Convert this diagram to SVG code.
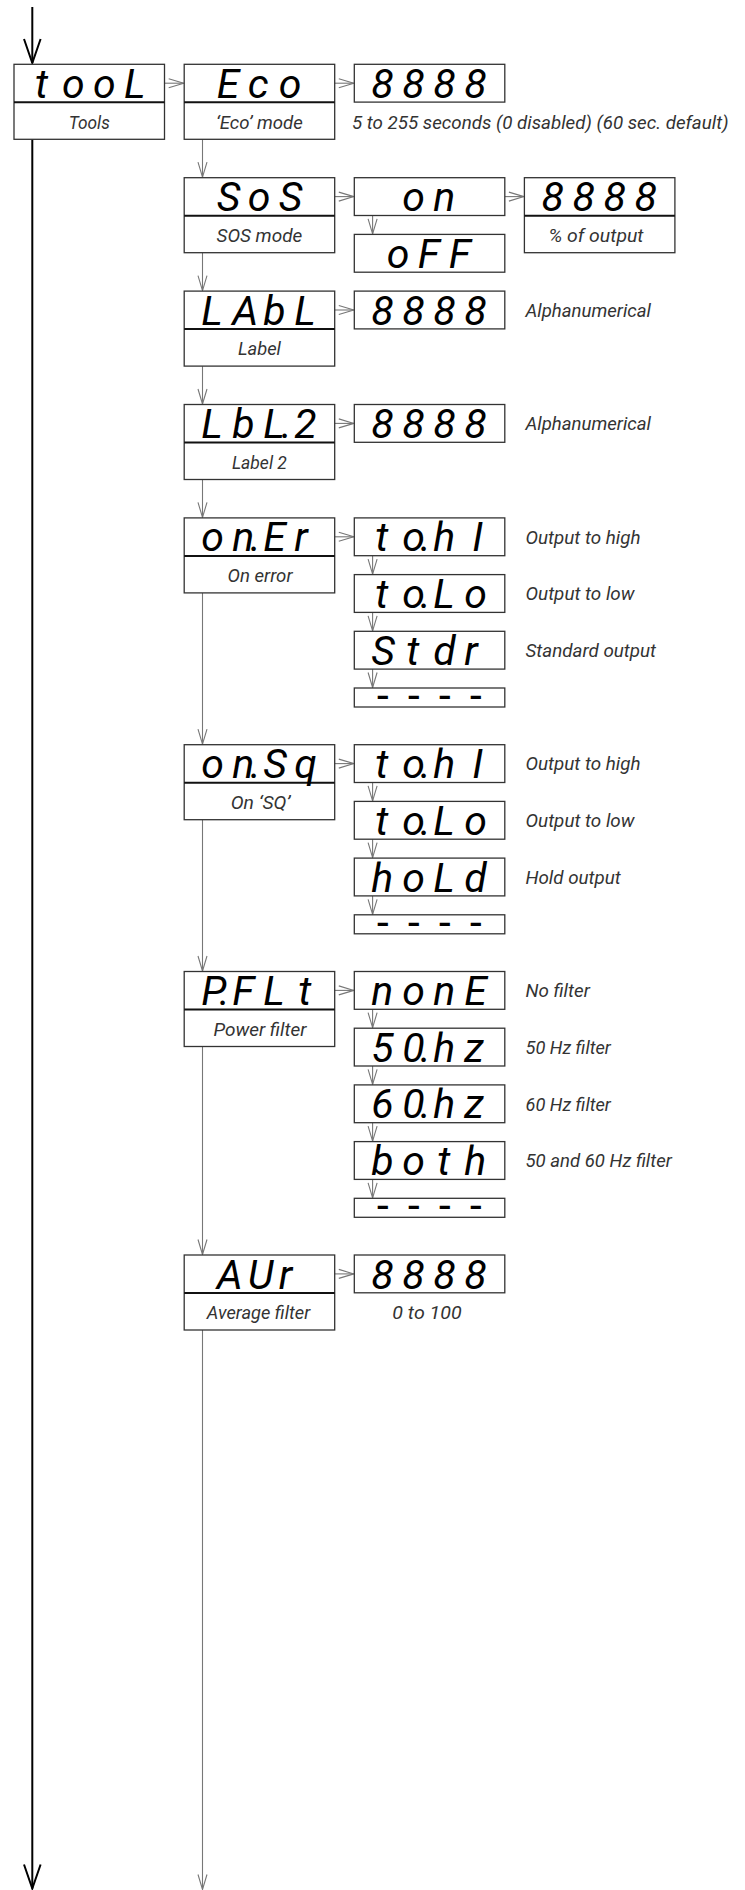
<svg xmlns="http://www.w3.org/2000/svg" width="745" height="1890" viewBox="0 0 745 1890">
<defs>
<style>
.box{fill:#fff;stroke:#333;stroke-width:1.3}
.dv{stroke:#111;stroke-width:2}
.seg{font-family:Roboto,"DejaVu Sans",sans-serif;font-style:italic;font-weight:400;font-size:41px;fill:#000}
.dash{font-family:"DejaVu Sans Mono","Liberation Mono",monospace;font-size:40px;fill:#000}
.lbl{font-family:Roboto,"Liberation Sans",sans-serif;font-style:italic;font-weight:400;font-size:19px;fill:#333}
.mid{text-anchor:middle}
.c{fill:none;stroke:#777;stroke-width:1.1}
.cv{marker-end:url(#ag)}
.main{fill:none;stroke:#000;stroke-width:2;marker-end:url(#ab)}
</style>
<marker id="ag" markerUnits="userSpaceOnUse" markerWidth="18" markerHeight="12" refX="15" refY="5" orient="auto" overflow="visible">
<path d="M0,0.5 L15,5 L0,9.5" fill="none" stroke="#777" stroke-width="1.1"/>
</marker>
<marker id="ab" markerUnits="userSpaceOnUse" markerWidth="28" markerHeight="20" refX="24" refY="9" orient="auto" overflow="visible">
<path d="M0,0.7 L24,9 L0,17.3" fill="none" stroke="#000" stroke-width="2"/>
</marker>
</defs>

<g id="connectors">
<path class="main" d="M32.3,7 V63"/>
<path class="main" d="M32.3,139.3 V1888.5"/>
<path class="c cv" d="M164.5,83.2 H183.7"/>
<path class="c cv" d="M334.7,83.2 H353.8"/>
<path class="c cv" d="M334.7,196.6 H353.8"/>
<path class="c cv" d="M504.8,196.6 H523.9"/>
<path class="c cv" d="M334.7,310 H353.8"/>
<path class="c cv" d="M334.7,423.4 H353.8"/>
<path class="c cv" d="M334.7,536.8 H353.8"/>
<path class="c cv" d="M334.7,763.6 H353.8"/>
<path class="c cv" d="M334.7,990.4 H353.8"/>
<path class="c cv" d="M334.7,1273.9 H353.8"/>
<path class="c cv" d="M202.5,139.3 V177.2"/>
<path class="c cv" d="M202.5,252.7 V290.6"/>
<path class="c cv" d="M202.5,366.1 V404"/>
<path class="c cv" d="M202.5,479.5 V517.4"/>
<path class="c cv" d="M202.5,592.9 V744.2"/>
<path class="c cv" d="M202.5,819.7 V971"/>
<path class="c cv" d="M202.5,1046.5 V1254.5"/>
<path class="c cv" d="M202.5,1330 V1889.5"/>
<path class="c cv" d="M372.6,215.5 V233.9"/>
<path class="c cv" d="M372.6,555.7 V574.1"/>
<path class="c cv" d="M372.6,612.4 V630.8"/>
<path class="c cv" d="M372.6,669.1 V687.5"/>
<path class="c cv" d="M372.6,782.5 V800.9"/>
<path class="c cv" d="M372.6,839.2 V857.6"/>
<path class="c cv" d="M372.6,895.9 V914.3"/>
<path class="c cv" d="M372.6,1009.3 V1027.7"/>
<path class="c cv" d="M372.6,1066 V1084.4"/>
<path class="c cv" d="M372.6,1122.7 V1141.1"/>
<path class="c cv" d="M372.6,1179.4 V1197.8"/>
</g>

<g id="tool">
<rect class="box" x="14" y="64.3" width="150.5" height="75"/>
<line class="dv" x1="14" y1="102.3" x2="164.5" y2="102.3"/>
<text class="seg" x="35 62 93 124" y="97.8">tooL</text>
<text class="lbl mid" x="89.3" y="128.5" textLength="41" lengthAdjust="spacingAndGlyphs">Tools</text>
</g>

<g id="eco">
<rect class="box" x="184.2" y="64.3" width="150.5" height="75"/>
<line class="dv" x1="184.2" y1="102.3" x2="334.7" y2="102.3"/>
<text class="seg" x="216.7 247.7 278.7" y="97.8">Eco</text>
<text class="lbl mid" x="259.4" y="128.5" textLength="86.7" lengthAdjust="spacingAndGlyphs">‘Eco’ mode</text>
</g>

<g id="eco-value">
<rect class="box" x="354.3" y="64.3" width="150.5" height="37.8"/>
<text class="seg" x="371.3 402.3 433.3 464.3" y="97.8">8888</text>
<text class="lbl" x="352" y="128.5" textLength="376.5" lengthAdjust="spacingAndGlyphs">5 to 255 seconds (0 disabled) (60 sec. default)</text>
</g>

<g id="sos">
<rect class="box" x="184.2" y="177.7" width="150.5" height="75"/>
<line class="dv" x1="184.2" y1="215.7" x2="334.7" y2="215.7"/>
<text class="seg" x="216.7 247.7 278.7" y="211.2">SoS</text>
<text class="lbl mid" x="259.4" y="241.9" textLength="85.8" lengthAdjust="spacingAndGlyphs">SOS mode</text>
</g>

<g id="sos-on">
<rect class="box" x="354.3" y="177.7" width="150.5" height="37.8"/>
<text class="seg" x="402.3 433.3" y="211.2">on</text>
</g>

<g id="sos-off">
<rect class="box" x="354.3" y="234.4" width="150.5" height="37.8"/>
<text class="seg" x="386.8 417.8 448.8" y="267.9">oFF</text>
</g>

<g id="sos-value">
<rect class="box" x="524.4" y="177.7" width="150.5" height="75"/>
<line class="dv" x1="524.4" y1="215.7" x2="674.9" y2="215.7"/>
<text class="seg" x="541.4 572.4 603.4 634.4" y="211.2">8888</text>
<text class="lbl mid" x="596" y="242.3" textLength="95" lengthAdjust="spacingAndGlyphs">% of output</text>
</g>

<g id="labl">
<rect class="box" x="184.2" y="291.1" width="150.5" height="75"/>
<line class="dv" x1="184.2" y1="329.1" x2="334.7" y2="329.1"/>
<text class="seg" x="201.2 232.2 263.2 294.2" y="324.6">LAbL</text>
<text class="lbl mid" x="259.4" y="355.3" textLength="43" lengthAdjust="spacingAndGlyphs">Label</text>
</g>

<g id="labl-value">
<rect class="box" x="354.3" y="291.1" width="150.5" height="37.8"/>
<text class="seg" x="371.3 402.3 433.3 464.3" y="324.6">8888</text>
<text class="lbl" x="525.5" y="316.8" textLength="125.5" lengthAdjust="spacingAndGlyphs">Alphanumerical</text>
</g>

<g id="lbl2">
<rect class="box" x="184.2" y="404.5" width="150.5" height="75"/>
<line class="dv" x1="184.2" y1="442.5" x2="334.7" y2="442.5"/>
<text class="seg" x="201.2 232.2 263.2 281.2 294.2" y="438">LbL.2</text>
<text class="lbl mid" x="259.4" y="468.7" textLength="55" lengthAdjust="spacingAndGlyphs">Label 2</text>
</g>

<g id="lbl2-value">
<rect class="box" x="354.3" y="404.5" width="150.5" height="37.8"/>
<text class="seg" x="371.3 402.3 433.3 464.3" y="438">8888</text>
<text class="lbl" x="525.5" y="430.2" textLength="125.5" lengthAdjust="spacingAndGlyphs">Alphanumerical</text>
</g>

<g id="oner">
<rect class="box" x="184.2" y="517.9" width="150.5" height="75"/>
<line class="dv" x1="184.2" y1="555.9" x2="334.7" y2="555.9"/>
<text class="seg" x="201.2 232.2 250.2 263.2 294.2" y="551.4">on.Er</text>
<text class="lbl mid" x="260" y="582.1" textLength="65" lengthAdjust="spacingAndGlyphs">On error</text>
</g>

<g id="oner-high">
<rect class="box" x="354.3" y="517.9" width="150.5" height="37.8"/>
<text class="seg" x="375.3 402.3 420.3 433.3 472.3" y="551.4">to.hI</text>
<text class="lbl" x="525.5" y="543.6" textLength="115" lengthAdjust="spacingAndGlyphs">Output to high</text>
</g>

<g id="oner-low">
<rect class="box" x="354.3" y="574.6" width="150.5" height="37.8"/>
<text class="seg" x="375.3 402.3 420.3 433.3 464.3" y="608.1">to.Lo</text>
<text class="lbl" x="525.5" y="600.3" textLength="109" lengthAdjust="spacingAndGlyphs">Output to low</text>
</g>

<g id="oner-std">
<rect class="box" x="354.3" y="631.3" width="150.5" height="37.8"/>
<text class="seg" x="371.3 406.3 433.3 464.3" y="664.8">Stdr</text>
<text class="lbl" x="525.5" y="657" textLength="130.6" lengthAdjust="spacingAndGlyphs">Standard output</text>
</g>

<g id="oner-none">
<rect class="box" x="354.3" y="688" width="150.5" height="19"/>
<text class="dash" x="370.8 401.8 432.8 463.8" y="709">----</text>
</g>

<g id="onsq">
<rect class="box" x="184.2" y="744.7" width="150.5" height="75"/>
<line class="dv" x1="184.2" y1="782.7" x2="334.7" y2="782.7"/>
<text class="seg" x="201.2 232.2 250.2 263.2 294.2" y="778.2">on.Sq</text>
<text class="lbl mid" x="260.5" y="808.9" textLength="59.6" lengthAdjust="spacingAndGlyphs">On ‘SQ’</text>
</g>

<g id="onsq-high">
<rect class="box" x="354.3" y="744.7" width="150.5" height="37.8"/>
<text class="seg" x="375.3 402.3 420.3 433.3 472.3" y="778.2">to.hI</text>
<text class="lbl" x="525.5" y="770.4" textLength="115" lengthAdjust="spacingAndGlyphs">Output to high</text>
</g>

<g id="onsq-low">
<rect class="box" x="354.3" y="801.4" width="150.5" height="37.8"/>
<text class="seg" x="375.3 402.3 420.3 433.3 464.3" y="834.9">to.Lo</text>
<text class="lbl" x="525.5" y="827.1" textLength="109" lengthAdjust="spacingAndGlyphs">Output to low</text>
</g>

<g id="onsq-hold">
<rect class="box" x="354.3" y="858.1" width="150.5" height="37.8"/>
<text class="seg" x="371.3 402.3 433.3 464.3" y="891.6">hoLd</text>
<text class="lbl" x="525.5" y="883.8" textLength="95.3" lengthAdjust="spacingAndGlyphs">Hold output</text>
</g>

<g id="onsq-none">
<rect class="box" x="354.3" y="914.8" width="150.5" height="19"/>
<text class="dash" x="370.8 401.8 432.8 463.8" y="935.8">----</text>
</g>

<g id="pflt">
<rect class="box" x="184.2" y="971.5" width="150.5" height="75"/>
<line class="dv" x1="184.2" y1="1009.5" x2="334.7" y2="1009.5"/>
<text class="seg" x="201.2 219.2 232.2 263.2 298.2" y="1005">P.FLt</text>
<text class="lbl mid" x="260" y="1035.7" textLength="93" lengthAdjust="spacingAndGlyphs">Power filter</text>
</g>

<g id="pflt-none">
<rect class="box" x="354.3" y="971.5" width="150.5" height="37.8"/>
<text class="seg" x="371.3 402.3 433.3 464.3" y="1005">nonE</text>
<text class="lbl" x="525.5" y="997.2" textLength="64.3" lengthAdjust="spacingAndGlyphs">No filter</text>
</g>

<g id="pflt-50">
<rect class="box" x="354.3" y="1028.2" width="150.5" height="37.8"/>
<text class="seg" x="371.3 402.3 420.3 433.3 464.3" y="1061.7">50.hz</text>
<text class="lbl" x="525.5" y="1053.9" textLength="85.3" lengthAdjust="spacingAndGlyphs">50 Hz filter</text>
</g>

<g id="pflt-60">
<rect class="box" x="354.3" y="1084.9" width="150.5" height="37.8"/>
<text class="seg" x="371.3 402.3 420.3 433.3 464.3" y="1118.4">60.hz</text>
<text class="lbl" x="525.5" y="1110.6" textLength="85.3" lengthAdjust="spacingAndGlyphs">60 Hz filter</text>
</g>

<g id="pflt-both">
<rect class="box" x="354.3" y="1141.6" width="150.5" height="37.8"/>
<text class="seg" x="371.3 402.3 437.3 464.3" y="1175.1">both</text>
<text class="lbl" x="525.5" y="1167.3" textLength="146.3" lengthAdjust="spacingAndGlyphs">50 and 60 Hz filter</text>
</g>

<g id="pflt-off">
<rect class="box" x="354.3" y="1198.3" width="150.5" height="19"/>
<text class="dash" x="370.8 401.8 432.8 463.8" y="1219.3">----</text>
</g>

<g id="avr">
<rect class="box" x="184.2" y="1255" width="150.5" height="75"/>
<line class="dv" x1="184.2" y1="1293" x2="334.7" y2="1293"/>
<text class="seg" x="216.7 247.7 278.7" y="1288.5">AUr</text>
<text class="lbl mid" x="258.5" y="1319.3" textLength="103.3" lengthAdjust="spacingAndGlyphs">Average filter</text>
</g>

<g id="avr-value">
<rect class="box" x="354.3" y="1255" width="150.5" height="37.8"/>
<text class="seg" x="371.3 402.3 433.3 464.3" y="1288.5">8888</text>
<text class="lbl mid" x="427" y="1319.3" textLength="69.3" lengthAdjust="spacingAndGlyphs">0 to 100</text>
</g>
</svg>
